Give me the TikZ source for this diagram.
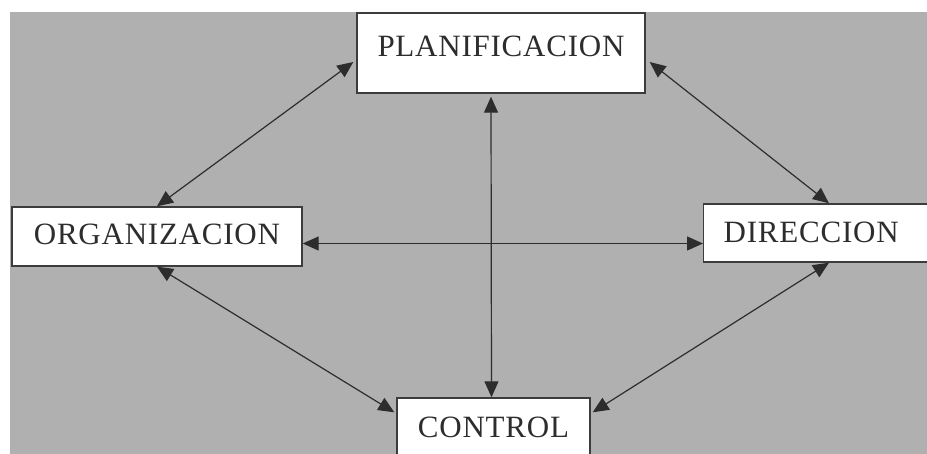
\documentclass[tikz,border=0pt]{standalone}
\usepackage{fontspec}
\setmainfont{Liberation Serif}[LetterSpace=2.5]
\usetikzlibrary{arrows.meta,calc}
\definecolor{bggray}{RGB}{176,176,176}
\definecolor{inkgray}{RGB}{45,45,45}
\definecolor{framegray}{RGB}{60,60,60}
\tikzset{
  box/.style={draw=framegray, line width=1.4pt, fill=white, inner sep=0pt,
    font=\fontsize{31}{31}\selectfont, text=inkgray},
  link/.style={draw=inkgray, line width=1.2pt,
    {Triangle[length=16pt,width=14pt]}-{Triangle[length=16pt,width=14pt]}}
}
\begin{document}
\begin{tikzpicture}[x=1pt,y=-1pt]
\useasboundingbox (0,0) rectangle (927,454);
\clip (0,0) rectangle (927,454);
\fill[white] (0,0) rectangle (927,454);
\fill[bggray] (10,12) rectangle (927,454);

\node[box, minimum width=288pt, text height=44pt, text depth=36pt, anchor=base] (plan) at (501,57) {PLANIFICACION};
\node[box, minimum width=290pt, text height=38pt, text depth=21pt, anchor=base] (org) at (157,245) {ORGANIZACION};
\node[box, text width=200pt, align=left, inner xsep=20pt, text height=39pt, text depth=19pt, anchor=base west] (dir) at (703,243) {DIRECCION};
\node[box, minimum width=193pt, text height=39pt, text depth=43pt, anchor=base] (ctrl) at (493.5,437) {CONTROL};

\draw[link] ([xshift=-3pt,yshift=-9pt]plan.west) -- (org.north);
\draw[link] ([xshift=4pt,yshift=-9pt]plan.east) -- ([xshift=126pt]dir.north west);
\draw[link] ([xshift=126pt]dir.south west) -- ([xshift=2pt,yshift=-15pt]ctrl.north east);
\draw[link] (org.south) -- ([xshift=-2pt,yshift=-15pt]ctrl.north west);
\draw[link] ([xshift=-10pt,yshift=-3pt]plan.south) -- ([xshift=-2pt]ctrl.north);
\draw[link] ([yshift=-7pt]org.east) -- ([yshift=-7pt]org.east -| dir.west);
\end{tikzpicture}
\end{document}
